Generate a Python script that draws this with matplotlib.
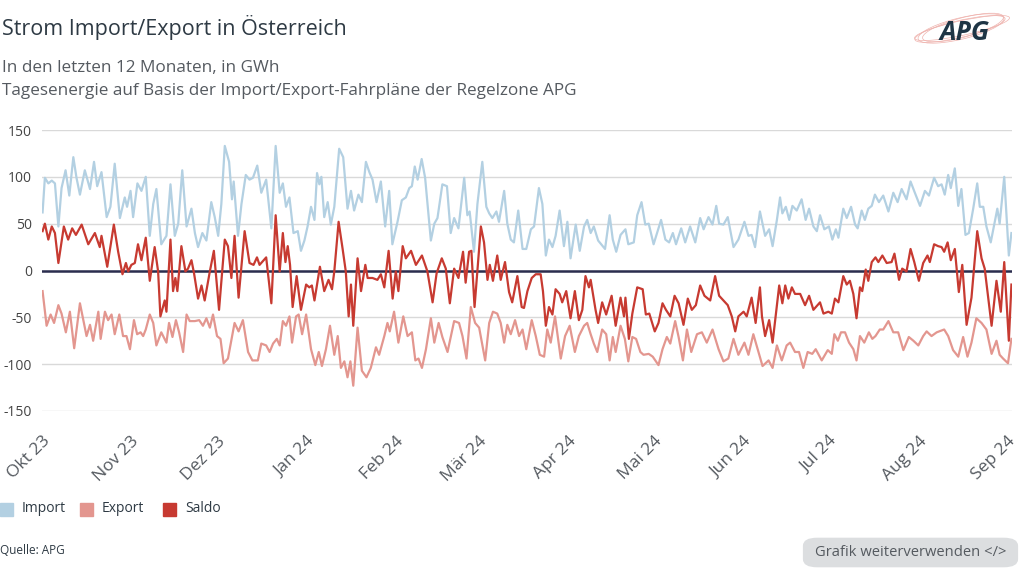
import numpy as np
import pandas as pd
import matplotlib
matplotlib.use('Agg')
from matplotlib import pyplot as plt
from matplotlib.patches import Rectangle, FancyBboxPatch, Ellipse

plt.rcParams['font.family'] = ['Open Sans', 'DejaVu Sans']

start = pd.Timestamp('2023-10-01')

# Tage seit 1. Okt 2023 / GWh
import_days = [0.2, 1.0, 2.2, 3.4, 4.5, 5.7, 6.8, 8.2, 9.5, 10.9, 12.0, 13.2, 14.9, 16.7, 18.1, 19.2, 20.7,
               22.5, 23.8, 25.3, 27.1, 28.8, 29.6, 30.8, 31.7, 33.2, 34.6, 36.1, 37.5, 38.7, 39.8, 41.5,
               43.3, 44.7, 46.2, 47.4, 48.8, 50.3, 52.0, 53.2, 54.3, 55.8, 57.2, 58.9, 60.1, 61.3, 62.4,
               63.6, 65.1, 66.1, 66.7, 68.2, 69.4, 70.9, 72.2, 73.4, 74.9, 76.3, 78.0, 79.8, 81.3, 82.7,
               83.8, 84.9, 86.1, 87.5, 89.0, 90.1, 91.3, 92.4, 93.6, 94.8, 95.7, 96.5, 97.2, 98.2, 99.4,
               100.5, 101.7, 103.4, 104.8, 106.3, 107.5, 108.6, 110.1, 111.3, 112.7, 113.9, 115.0, 116.4,
               117.9, 119.4, 120.8, 121.9, 123.7, 125.2, 126.6, 127.8, 128.7, 129.7, 130.7, 132.1, 133.3,
               135.3, 136.5, 137.6, 139.3, 140.9, 142.2, 143.4, 144.9, 146.9, 148.0, 148.8, 150.3, 151.5,
               153.2, 154.6, 155.6, 156.7, 158.1, 159.0, 160.8, 161.9, 163.1, 164.2, 165.7, 167.2, 168.5,
               170.1, 171.2, 172.9, 174.1, 175.3, 176.4, 177.6, 178.7, 180.1, 181.6, 182.8, 183.9, 185.7,
               187.1, 188.6, 189.7, 190.9, 192.0, 193.5, 195.9, 197.5, 198.6, 199.8, 201.3, 203.0, 204.0,
               205.9, 207.1, 208.6, 209.9, 211.1, 212.8, 214.0, 215.4, 216.9, 218.2, 219.5, 220.6, 222.4,
               223.8, 225.5, 227.3, 229.0, 230.2, 231.9, 233.3, 234.6, 235.6, 237.1, 238.6, 240.6, 242.3,
               244.4, 245.8, 246.9, 248.1, 249.8, 251.6, 253.0, 254.2, 255.7, 256.8, 257.6, 258.8, 260.0,
               261.1, 262.6, 264.3, 265.7, 266.9, 268.4, 269.6, 270.7, 272.2, 273.8, 275.0, 276.2, 277.1,
               278.8, 280.0, 281.5, 282.9, 283.8, 285.2, 286.3, 287.5, 288.7, 289.8, 291.2, 292.7, 294.5,
               296.2, 297.7, 299.1, 300.8, 302.2, 303.7, 305.5, 307.2, 308.6, 310.4, 311.8, 313.0, 314.1,
               315.3, 316.2, 317.6, 318.8, 319.9, 321.3, 322.5, 324.0, 325.4, 326.3, 327.5, 328.6, 330.1,
               332.4, 333.2, 334.8, 336.4, 337.3]
import_vals = [62, 99, 93, 96, 93, 47, 88, 107, 80, 121, 99, 81, 107, 87, 116, 90, 105,
               57, 68, 114, 56, 78, 68, 85, 57, 93, 85, 100, 37, 71, 87, 28,
               37, 92, 37, 50, 107, 47, 66, 40, 25, 40, 32, 73, 57, 37, 71,
               133, 116, 76, 95, 37, 71, 102, 97, 99, 112, 83, 97, 45, 133, 83,
               93, 68, 78, 40, 42, 21, 32, 47, 68, 54, 104, 92, 100, 57, 73,
               49, 68, 130, 121, 66, 85, 64, 81, 73, 116, 105, 97, 73,
               95, 47, 85, 28, 52, 75, 78, 88, 90, 111, 97, 119, 99,
               32, 50, 56, 92, 90, 40, 56, 45, 99, 59, 63, 20, 71,
               116, 68, 61, 56, 63, 52, 85, 50, 33, 30, 64, 23, 23,
               44, 47, 88, 71, 16, 33, 25, 37, 64, 26, 52, 13, 49,
               21, 47, 54, 40, 47, 32, 23, 59, 33, 20, 38, 44, 28,
               30, 59, 73, 49, 50, 28, 40, 54, 33, 30, 40, 28, 45,
               30, 47, 30, 56, 44, 57, 49, 69, 50, 49, 57, 25, 33,
               52, 37, 38, 25, 63, 37, 44, 26, 54, 78, 61, 68, 54,
               69, 64, 76, 54, 66, 47, 42, 59, 44, 47, 33, 44, 35,
               66, 56, 68, 49, 45, 64, 54, 66, 69, 81, 73, 80, 63,
               83, 73, 87, 76, 95, 83, 69, 85, 80, 99, 90, 92, 81,
               102, 88, 109, 69, 87, 38, 40, 66, 93, 68, 68, 47, 30,
               66, 50, 100, 16, 40]

export_days = [0.2, 1.6, 3.0, 4.2, 5.7, 6.8, 8.3, 9.7, 11.2, 13.2, 15.5, 16.7, 17.8, 19.6, 20.4, 21.9,
               23.0, 24.2, 25.3, 26.9, 28.2, 29.4, 30.6, 32.0, 33.1, 34.3, 35.2, 36.1, 37.5, 38.7, 39.8,
               41.5, 43.3, 44.2, 45.4, 46.6, 47.7, 49.1, 50.3, 51.4, 53.2, 54.7, 56.0, 57.2, 58.4, 59.5,
               60.9, 62.1, 63.2, 64.7, 67.0, 68.4, 69.9, 71.7, 73.2, 75.1, 76.3, 78.0, 79.2, 80.4, 81.7,
               82.7, 83.8, 84.9, 86.1, 87.0, 88.4, 89.3, 90.5, 91.9, 93.6, 95.1, 96.3, 97.4, 98.8, 100.2,
               101.7, 102.9, 104.0, 105.2, 106.3, 107.3, 108.3, 109.8, 111.3, 112.9, 114.4, 116.2, 117.3,
               119.1, 120.2, 121.0, 122.5, 124.0, 125.7, 127.2, 128.7, 129.9, 131.0, 132.2, 133.6, 135.3,
               136.5, 138.0, 139.3, 141.1, 143.4, 145.1, 146.3, 147.7, 149.2, 150.7, 152.1, 154.2, 155.6,
               156.9, 158.4, 159.6, 160.8, 161.9, 163.1, 164.6, 166.0, 167.2, 168.5, 170.4, 171.8, 173.2,
               174.7, 175.8, 177.0, 178.5, 180.5, 182.0, 183.6, 185.4, 186.8, 188.6, 189.7, 190.9, 192.0,
               193.2, 194.9, 196.3, 197.5, 198.6, 199.6, 201.3, 202.8, 204.0, 205.4, 206.7, 208.2, 209.3,
               211.1, 212.5, 214.5, 215.9, 217.4, 218.6, 220.3, 221.5, 223.0, 224.4, 225.9, 227.9, 229.6,
               231.3, 233.3, 235.4, 237.1, 238.8, 240.6, 242.3, 244.4, 245.8, 247.5, 249.0, 250.7, 252.8,
               254.2, 255.7, 257.4, 259.1, 260.3, 262.0, 263.4, 264.9, 266.4, 268.0, 269.2, 271.3, 273.4,
               274.8, 275.7, 276.9, 278.0, 279.4, 280.8, 282.3, 283.4, 284.6, 286.1, 287.7, 288.9, 290.0,
               291.5, 292.7, 294.5, 296.2, 297.9, 299.7, 301.6, 303.2, 304.9, 306.6, 307.8, 309.5, 311.3,
               313.9, 315.3, 317.0, 318.8, 320.5, 322.0, 323.4, 325.1, 326.9, 328.6, 330.4, 332.1, 333.2,
               334.4, 336.1, 337.3]
export_vals = [-22, -59, -47, -56, -37, -46, -66, -44, -83, -35, -70, -58, -75, -44, -73, -44,
               -53, -47, -68, -47, -70, -70, -84, -53, -68, -66, -70, -63, -47, -56, -80,
               -66, -77, -56, -71, -53, -66, -87, -47, -54, -54, -53, -59, -51, -61, -47,
               -70, -73, -99, -94, -56, -65, -53, -87, -96, -96, -78, -80, -87, -78, -73,
               -80, -54, -59, -49, -77, -49, -47, -68, -47, -84, -101, -87, -102, -84, -59,
               -90, -70, -104, -97, -114, -97, -123, -61, -107, -114, -104, -82, -90,
               -70, -56, -65, -44, -77, -49, -70, -66, -96, -94, -104, -84, -51,
               -77, -56, -71, -87, -54, -56, -70, -94, -39, -56, -61, -96, -56,
               -44, -46, -56, -77, -58, -68, -53, -70, -63, -84, -53, -70, -90,
               -92, -63, -77, -49, -94, -70, -59, -87, -70, -59, -56, -68, -78,
               -87, -63, -68, -96, -71, -87, -59, -73, -97, -71, -73, -87, -90,
               -89, -92, -101, -84, -71, -78, -54, -71, -96, -63, -87, -68, -66,
               -77, -63, -84, -97, -94, -73, -90, -77, -90, -68, -84, -102, -96,
               -104, -80, -96, -80, -77, -87, -87, -104, -87, -89, -84, -96, -85,
               -89, -68, -75, -66, -66, -77, -84, -96, -70, -77, -66, -73, -70,
               -63, -63, -54, -66, -66, -85, -71, -75, -80, -70, -65, -70, -66,
               -63, -70, -85, -92, -71, -92, -77, -51, -56, -63, -89, -75, -90,
               -94, -99, -73]

saldo_days = [0.2, 1.0, 2.2, 3.4, 4.5, 5.7, 7.6, 9.1, 10.5, 11.8, 13.8, 16.1, 18.4, 20.1, 20.7, 22.7,
              25.0, 26.5, 28.0, 29.2, 30.0, 31.1, 32.3, 33.4, 34.6, 36.1, 37.5, 39.2, 40.4, 41.2, 42.7,
              43.3, 44.7, 45.6, 46.4, 47.1, 48.5, 49.9, 50.8, 52.0, 52.9, 54.3, 55.5, 56.6, 58.4, 59.8,
              61.6, 63.6, 64.7, 65.9, 67.0, 68.4, 70.5, 72.2, 73.6, 74.8, 75.7, 78.0, 79.8, 81.3, 82.7,
              83.8, 84.7, 85.5, 86.3, 87.2, 88.6, 90.1, 91.9, 93.0, 93.9, 94.8, 96.7, 98.2, 99.7, 100.9,
              101.7, 103.2, 104.6, 105.7, 106.7, 107.5, 108.3, 109.8, 111.0, 112.5, 113.3, 115.0, 116.7,
              117.9, 119.1, 120.6, 122.0, 123.1, 124.0, 125.5, 126.6, 128.4, 130.1, 132.2, 134.1, 135.9,
              137.3, 139.1, 140.5, 141.9, 143.4, 144.9, 146.5, 147.4, 148.6, 149.4, 150.5, 152.7, 153.8,
              155.0, 155.8, 156.9, 158.4, 159.6, 161.1, 162.5, 163.6, 165.4, 166.9, 167.7, 168.9, 170.4,
              171.8, 173.5, 174.3, 175.3, 176.4, 177.6, 178.7, 180.1, 181.0, 182.4, 183.9, 185.4, 186.8,
              188.0, 189.1, 190.3, 190.9, 192.6, 193.5, 194.9, 196.3, 198.2, 199.6, 201.3, 202.5, 203.0,
              204.2, 205.4, 207.1, 209.0, 210.1, 211.3, 213.2, 214.5, 215.9, 217.1, 218.6, 220.1, 221.5,
              223.2, 224.7, 226.1, 227.5, 229.0, 230.5, 232.5, 234.2, 235.6, 237.1, 238.6, 240.0, 241.2,
              242.3, 244.1, 245.2, 246.9, 248.3, 249.8, 250.5, 251.6, 253.0, 254.2, 256.5, 257.6, 258.6,
              259.7, 260.9, 262.0, 263.8, 265.5, 266.9, 268.4, 270.7, 271.9, 273.6, 274.8, 275.9, 277.1,
              278.8, 280.0, 281.1, 282.3, 283.4, 284.6, 285.4, 286.6, 287.5, 288.7, 290.0, 291.0, 292.4,
              293.9, 295.6, 296.6, 298.2, 299.3, 300.8, 302.2, 303.5, 305.1, 306.6, 308.1, 308.9, 310.4,
              311.8, 313.0, 313.9, 315.1, 316.2, 317.6, 319.0, 320.2, 321.7, 323.4, 325.4, 326.9, 328.0,
              330.4, 332.1, 333.6, 334.8, 336.4, 337.3]
saldo_vals = [42, 50, 33, 47, 40, 8, 47, 33, 45, 38, 49, 28, 40, 25, 37, 4,
              49, 20, -4, 8, -1, 6, 8, 28, 11, 35, -11, 25, -1, -49, -32,
              -44, 33, -22, -8, -22, 26, -1, 2, 11, -3, -30, -16, -32, -1, 21,
              -42, 33, 26, -8, 37, -29, 42, 8, 6, 14, 6, 14, -35, 59, -1,
              40, 9, 26, 6, -39, -6, -42, -15, -18, -16, -32, 4, -22, -10, -20,
              -1, 52, 23, -1, -49, -15, -59, 13, -22, 6, -8, -8, -10,
              -4, -18, 21, -30, -1, -22, 26, 13, 21, 6, 16, -1, -34,
              -3, 13, 2, -35, 2, -8, 20, -13, 20, 21, -39, 47, 30,
              -10, 6, -11, 16, -10, 9, -23, -34, -6, -39, -40, -22, -8,
              -4, -4, -22, -59, -39, -47, -20, -25, -34, -22, -51, -22, -53,
              -42, -6, -18, -10, -42, -56, -34, -47, -27, -59, -29, -49, -29,
              -73, -46, -18, -20, -47, -46, -65, -56, -35, -42, -49, -27, -35,
              -58, -30, -42, -37, -16, -27, -32, -6, -27, -32, -37, -49, -65,
              -49, -44, -49, -29, -56, -18, -49, -70, -53, -77, -16, -35, -16,
              -30, -18, -25, -25, -37, -27, -42, -34, -46, -44, -46, -30, -34,
              -6, -15, -11, -25, -51, -18, -22, 1, -11, 9, 14, 9, 16,
              8, 9, 18, -10, 2, -1, 23, 9, -11, 8, 16, 9, 28,
              26, 25, 20, 30, 11, 23, -23, 6, -58, -29, 42, 13, 2,
              -59, -11, -44, 9, -75, -15]

month_labels = ['Okt 23', 'Nov 23', 'Dez 23', 'Jan 24', 'Feb 24', 'Mär 24',
                'Apr 24', 'Mai 24', 'Jun 24', 'Jul 24', 'Aug 24', 'Sep 24']
y_ticks = [-150, -100, -50, 0, 50, 100, 150]

c_import = '#b3d0e2'
c_export = '#e3968f'
c_saldo = '#c73a31'
c_zero = '#2b2d4e'
c_text = '#2e3a44'
c_grey = '#555a60'


def to_dates(days):
    return start + pd.to_timedelta(np.array(days), unit='D')


W, H = 1024, 576
fig = plt.figure(figsize=(W / 100, H / 100), dpi=100)


def fx(px):
    return px / W


def fy(py):
    return 1 - py / H


ax = fig.add_axes([fx(42), fy(411), fx(1012) - fx(42), fy(130) - fy(411)])

ax.plot(to_dates(import_days), import_vals, color=c_import, lw=1.6, zorder=3)
ax.plot(to_dates(export_days), export_vals, color=c_export, lw=1.6, zorder=3)
ax.axhline(0, color=c_zero, lw=1.8, zorder=4)
ax.plot(to_dates(saldo_days), saldo_vals, color=c_saldo, lw=1.6, zorder=5)

ax.set_ylim(-150, 150)
ax.set_xlim(start, start + pd.Timedelta(days=337.5))
ax.set_yticks(y_ticks)
ax.set_yticklabels([str(v) for v in y_ticks])
ax.grid(axis='y', color='#d9d9d9', lw=1.0, zorder=0)
ax.set_axisbelow(True)
for s in ax.spines.values():
    s.set_visible(False)

month_ticks = pd.date_range(start, periods=12, freq='MS')
ax.set_xticks(month_ticks)
ax.set_xticklabels(month_labels, rotation=45, ha='right', rotation_mode='anchor')
ax.tick_params(axis='x', length=0, pad=16, labelsize=12.5, labelcolor=c_grey)
ax.tick_params(axis='y', length=0, pad=7, labelsize=10, labelcolor='#444')

# Titel
fig.text(fx(2), fy(28), 'Strom Import/Export in Österreich', fontsize=15.5, color=c_text, va='center')
fig.text(fx(2), fy(68), 'In den letzten 12 Monaten, in GWh', fontsize=12.3, color=c_grey, va='center')
fig.text(fx(2), fy(91), 'Tagesenergie auf Basis der Import/Export-Fahrpläne der Regelzone APG',
         fontsize=12.3, color=c_grey, va='center')

# Legende
legend_items = [('Import', c_import, 0), ('Export', c_export, 80), ('Saldo', c_saldo, 163)]
for name, col, x0 in legend_items:
    fig.add_artist(Rectangle((fx(x0), fy(516)), fx(13), 13 / H, color=col, transform=fig.transFigure))
    fig.text(fx(x0 + 22), fy(509), name, fontsize=10, color=c_text, va='center')

fig.text(fx(0), fy(551), 'Quelle: APG', fontsize=8.5, color=c_text, va='center')

btn = FancyBboxPatch((fx(807), fy(565)), fx(207), 25 / H,
                     boxstyle='round,pad=0.004,rounding_size=0.014',
                     facecolor='#dcdee0', edgecolor='none', transform=fig.transFigure)
fig.add_artist(btn)
fig.text(fx(911), fy(552), 'Grafik weiterverwenden </>', fontsize=10.6, color=c_grey,
         ha='center', va='center')

# Logo
for i, (w, h, a) in enumerate([(98, 16, 24), (94, 20, 26), (102, 14, 22), (90, 18, 28)]):
    e = Ellipse((fx(960 + i), fy(29 - i * 0.5)), fx(w), h / H, angle=a, fill=False,
                edgecolor='#efb3ae', lw=0.5, transform=fig.transFigure)
    fig.add_artist(e)
fig.text(fx(965), fy(33), 'APG', fontsize=19, fontweight='bold', color='#1e3545',
         ha='center', va='center', style='italic')

fig.savefig('out.png', dpi=100, facecolor='white')
